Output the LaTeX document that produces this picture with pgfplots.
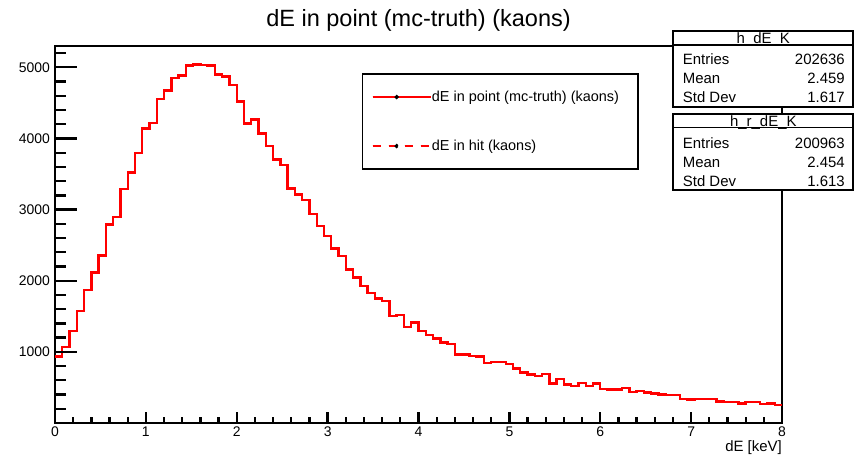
\documentclass[border=0pt]{standalone}
\usepackage{pgfplots}
\pgfplotsset{compat=1.18}
\usepackage{fontspec}
\setmainfont{Liberation Sans}
\pgfplotstableread{
x y
0.00 935
0.08 1066
0.16 1291
0.24 1573
0.32 1873
0.40 2113
0.48 2357
0.56 2789
0.64 2892
0.72 3286
0.80 3521
0.88 3798
0.96 4141
1.04 4221
1.12 4559
1.20 4676
1.28 4854
1.36 4883
1.44 5023
1.52 5038
1.60 5030
1.68 5025
1.76 4900
1.84 4872
1.92 4751
2.00 4520
2.08 4213
2.16 4265
2.24 4070
2.32 3890
2.40 3705
2.48 3630
2.56 3298
2.64 3213
2.72 3133
2.80 2941
2.88 2768
2.96 2627
3.04 2454
3.12 2346
3.20 2159
3.28 2046
3.36 1924
3.44 1830
3.52 1751
3.60 1717
3.68 1507
3.76 1516
3.84 1352
3.92 1413
4.00 1291
4.08 1235
4.16 1188
4.24 1132
4.32 1108
4.40 963
4.48 963
4.56 940
4.64 934
4.72 840
4.80 855
4.88 855
4.96 827
5.04 766
5.12 710
5.20 682
5.28 663
5.36 686
5.44 555
5.52 616
5.60 541
5.68 522
5.76 564
5.84 518
5.92 555
6.00 475
6.08 471
6.16 471
6.24 494
6.32 438
6.40 447
6.48 429
6.56 415
6.64 400
6.72 391
6.80 391
6.88 339
6.96 330
7.04 335
7.12 335
7.20 335
7.28 302
7.36 293
7.44 293
7.52 274
7.60 293
7.68 293
7.76 269
7.84 274
7.92 250
8.00 250
}\histK
\begin{document}
\begin{tikzpicture}[x=1bp,y=1bp]
\useasboundingbox (0,0) rectangle (857,458);
\begin{axis}[
  at={(55bp,35bp)}, anchor=south west,
  scale only axis, width=727bp, height=377bp,
  xmin=0, xmax=8, ymin=0, ymax=5300,
  axis line style={line width=1.6bp},
  tick align=inside, xtick pos=bottom, ytick pos=left,
  xtick={0,1,2,3,4,5,6,7,8},
  ytick={1000,2000,3000,4000,5000},
  major tick length=0pt, minor tick length=0pt,
  /pgf/number format/assume math mode=true,
  /pgf/number format/set thousands separator={},
  ticklabel style={font=\fontsize{14}{16}\selectfont},
  yticklabel style={xshift=-1.5bp},
  xticklabel style={yshift=-0.5bp},
  xlabel={dE [keV]},
  xlabel style={at={(axis description cs:1,0)}, anchor=north east, yshift=-17bp, inner sep=0pt, font=\fontsize{15}{17}\selectfont},
  legend style={at={(axis description cs:0.4219,0.9276)}, anchor=north west, draw=black, line width=1.6bp, fill=white,
     inner xsep=9bp, inner ysep=16bp, row sep=35bp, font=\fontsize{14.5}{17}\selectfont,
     nodes={inner sep=0pt, text height=11bp, text depth=3bp}},
  legend cell align=left,
  legend image code/.code={\path (0bp,0bp) -- (58bp,0bp); \draw[#1] (0bp,0bp) -- (48bp,0bp); \fill[black] (24bp,0bp) circle (0.7bp);},
]
\addplot[red, line width=2.4bp, const plot mark left] table[x=x,y=y] {\histK};
\addlegendentry{dE in point (mc-truth) (kaons)\hspace*{10bp}\mbox{}}
\addplot[red, line width=2.4bp, dashed, dash pattern=on 8bp off 8bp, const plot mark left] table[x=x,y=y] {\histK};
\addlegendentry{dE in hit (kaons)}
% axis ticks (ROOT style: inside, bottom and left only)
\pgfplotsinvokeforeach{0,1,2,3,4,5,6,7,8}{\draw[line width=2.3bp, black] (axis cs:#1,0) -- ++(0bp,11bp);}
\pgfplotsinvokeforeach{0.2,0.4,0.6,0.8,1.2,1.4,1.6,1.8,2.2,2.4,2.6,2.8,3.2,3.4,3.6,3.8,4.2,4.4,4.6,4.8,5.2,5.4,5.6,5.8,6.2,6.4,6.6,6.8,7.2,7.4,7.6,7.8}{\draw[line width=2.3bp, black] (axis cs:#1,0) -- ++(0bp,5.5bp);}
\pgfplotsinvokeforeach{1000,2000,3000,4000,5000}{\draw[line width=2.3bp, black] (axis cs:0,#1) -- ++(22bp,0bp);}
\pgfplotsinvokeforeach{200,400,600,800,1200,1400,1600,1800,2200,2400,2600,2800,3200,3400,3600,3800,4200,4400,4600,4800,5200}{\draw[line width=2.3bp, black] (axis cs:0,#1) -- ++(11bp,0bp);}
\end{axis}
\node[anchor=base, font=\fontsize{23.6}{27}\selectfont] at (418.5,431) {dE in point (mc-truth) (kaons)};
% stats box 1
\draw[line width=1.8bp, fill=white] (673.3,427.3) rectangle (853.3,350.7);
\draw[line width=1.5bp] (673.3,413) -- (853.3,413);
\node[anchor=base, font=\fontsize{15}{17}\selectfont, inner sep=0pt] at (763.3,414.5) {h\_dE\_K};
\begin{scope}[every node/.style={inner sep=0pt, font=\fontsize{15}{17}\selectfont}]
\node[anchor=base west] at (682.7,393.3) {Entries};
\node[anchor=base east] at (845,393.3) {202636};
\node[anchor=base west] at (682.7,374.3) {Mean};
\node[anchor=base east] at (845,374.3) {2.459};
\node[anchor=base west] at (682.7,355.9) {Std Dev};
\node[anchor=base east] at (845,355.9) {1.617};
\end{scope}
% stats box 2
\draw[line width=1.8bp, fill=white] (673.3,343.7) rectangle (853.3,268);
\draw[line width=1.5bp] (673.3,330.7) -- (853.3,330.7);
\node[anchor=base, font=\fontsize{15}{17}\selectfont, inner sep=0pt] at (763.3,331.5) {h\_r\_dE\_K};
\begin{scope}[every node/.style={inner sep=0pt, font=\fontsize{15}{17}\selectfont}]
\node[anchor=base west] at (682.7,309.9) {Entries};
\node[anchor=base east] at (845,309.9) {200963};
\node[anchor=base west] at (682.7,290.9) {Mean};
\node[anchor=base east] at (845,290.9) {2.454};
\node[anchor=base west] at (682.7,271.9) {Std Dev};
\node[anchor=base east] at (845,271.9) {1.613};
\end{scope}
\end{tikzpicture}
\end{document}
